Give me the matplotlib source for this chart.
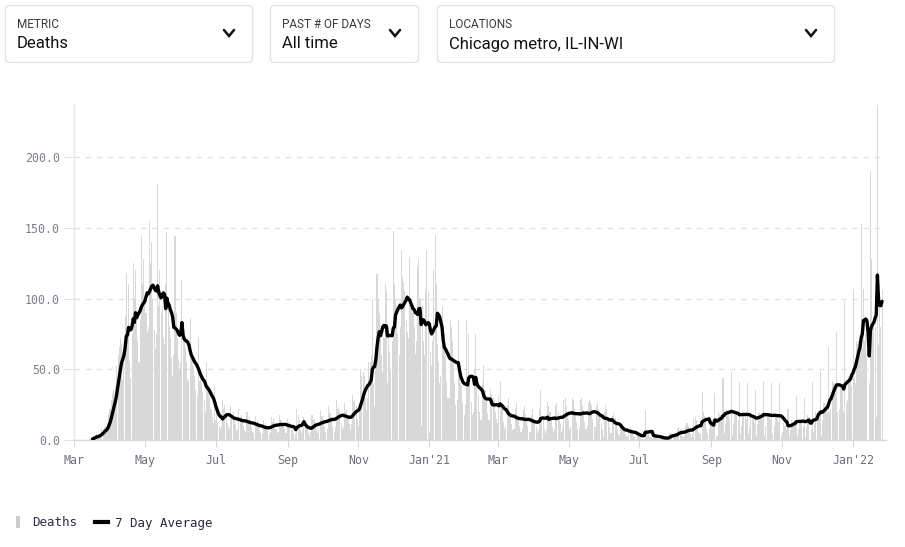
import numpy as np
import pandas as pd
import matplotlib
matplotlib.use("Agg")
import matplotlib.pyplot as plt
import matplotlib.dates as mdates
from matplotlib.patches import FancyBboxPatch, Rectangle
from matplotlib.lines import Line2D

# ---------------- data (daily reported deaths, Chicago metro) ----------------
start_date = "2020-03-09"   # first day of the daily series (Monday)

deaths_2020_mar_jun = [
    0, 0, 0, 0, 0, 1, 1,
    1, 2, 3, 2, 4, 3, 2,
    4, 5, 7, 8, 9, 10, 6,
    12, 18, 22, 28, 33, 35, 27,
    38, 52, 60, 66, 72, 68, 43,
    58, 88, 118, 72, 110, 56, 44,
    75, 125, 100, 120, 85, 70, 55,
    85, 144, 110, 128, 95, 90, 76,
    80, 155, 125, 140, 100, 78, 64,
    75, 181, 95, 120, 90, 95, 72,
    68, 110, 147, 95, 80, 72, 58,
    45, 60, 144, 90, 72, 57, 50,
    55, 113, 80, 72, 65, 55, 43,
    42, 86, 58, 60, 52, 45, 35,
    32, 73, 42, 45, 40, 34, 28,
    20, 55, 36, 38, 30, 22, 16,
]

deaths_2020_jul_oct = [
    12, 38, 14, 22, 12, 10, 8,
    10, 28, 22, 25, 20, 12, 9,
    8, 24, 18, 20, 17, 11, 7,
    7, 22, 16, 18, 15, 10, 7,
    6, 20, 14, 16, 13, 9, 6,
    5, 17, 12, 14, 10, 7, 5,
    4, 14, 10, 12, 9, 7, 4,
    6, 16, 13, 15, 11, 8, 5,
    6, 18, 14, 14, 12, 8, 5,
    5, 15, 12, 13, 10, 7, 4,
    1, 4, 22, 18, 14, 8, 5,
    8, 16, 10, 10, 8, 5, 3,
    6, 18, 14, 15, 12, 7, 5,
    7, 21, 17, 17, 14, 9, 6,
    8, 24, 19, 19, 16, 10, 6,
    9, 28, 22, 23, 20, 12, 8,
    9, 26, 20, 21, 18, 11, 7,
    11, 32, 27, 28, 24, 15, 10,
]

deaths_2020_nov_2021_feb = [
    20, 50, 45, 48, 45, 30, 21,
    30, 55, 55, 60, 100, 40, 24,
    65, 117, 100, 90, 80, 60, 48,
    72, 110, 105, 40, 80, 62, 49,
    70, 148, 110, 100, 95, 75, 60,
    80, 134, 115, 112, 105, 85, 76,
    72, 129, 100, 98, 90, 80, 61,
    70, 122, 128, 100, 10, 95, 70,
    60, 107, 134, 105, 5, 62, 52,
    70, 120, 145, 110, 68, 55, 40,
    45, 95, 80, 75, 60, 42, 30,
    30, 85, 80, 70, 55, 40, 25,
    28, 85, 45, 40, 38, 26, 18,
    25, 85, 40, 75, 45, 27, 18,
    20, 50, 75, 45, 32, 20, 14,
    14, 40, 53, 35, 28, 19, 14,
    14, 36, 32, 30, 28, 20, 15,
]

deaths_2021_mar_jun = [
    12, 32, 42, 25, 22, 13, 8,
    9, 25, 30, 20, 17, 11, 7,
    8, 22, 26, 18, 15, 10, 6,
    8, 21, 24, 18, 15, 10, 6,
    6, 18, 22, 15, 13, 9, 5,
    7, 22, 35, 17, 14, 8, 5,
    7, 27, 24, 20, 15, 9, 6,
    8, 24, 26, 20, 17, 11, 6,
    9, 28, 30, 24, 20, 14, 8,
    9, 30, 28, 22, 20, 13, 8,
    9, 28, 30, 24, 21, 13, 8,
    10, 26, 28, 27, 25, 15, 9,
    9, 24, 26, 22, 19, 12, 7,
    2, 20, 25, 22, 15, 9, 5,
    5, 17, 19, 16, 12, 7, 4,
    3, 11, 11, 10, 7, 4, 3,
    2, 8, 9, 8, 6, 3, 2,
    1, 4, 6, 5, 3, 1, 1,
]

deaths_2021_jul_oct = [
    1, 21, 7, 5, 4, 2, 2,
    1, 3, 4, 4, 3, 1, 1,
    0, 2, 2, 2, 2, 1, 0,
    1, 5, 5, 5, 4, 2, 2,
    2, 8, 9, 8, 6, 3, 2,
    3, 10, 12, 10, 8, 4, 2,
    4, 15, 16, 14, 11, 6, 4,
    5, 34, 20, 17, 14, 8, 4,
    8, 15, 14, 14, 11, 33, 3,
    3, 20, 18, 18, 14, 44, 5,
    12, 22, 20, 20, 15, 48, 3,
    11, 20, 18, 18, 14, 41, 4,
    10, 21, 19, 17, 15, 40, 4,
    9, 17, 16, 16, 12, 35, 3,
    11, 19, 18, 19, 14, 42, 3,
    10, 19, 18, 17, 14, 40, 4,
    10, 19, 17, 17, 13, 40, 3,
]

deaths_2021_nov_2022_jan = [
    6, 12, 10, 10, 8, 22, 2,
    7, 14, 13, 13, 10, 31, 3,
    8, 14, 13, 14, 10, 30, 2,
    9, 18, 16, 0, 8, 41, 6,
    11, 20, 19, 19, 15, 49, 3,
    14, 26, 25, 25, 20, 66, 20,
    22, 42, 40, 40, 33, 76, 20,
    22, 40, 38, 36, 20, 98, 26,
    28, 45, 43, 45, 38, 107, 44,
    40, 70, 68, 70, 60, 153, 64,
    107, 70, 75, 60, 0, 40, 190,
    128, 80, 85, 80, 16, 237, 67,
    100, 80, 106,
]

line_start = "2020-03-17"

tick_dates = ["2020-03-01", "2020-05-01", "2020-07-01", "2020-09-01", "2020-11-01",
              "2021-01-01", "2021-03-01", "2021-05-01", "2021-07-01", "2021-09-01",
              "2021-11-01", "2022-01-01"]
tick_labels = ["Mar", "May", "Jul", "Sep", "Nov", "Jan'21", "Mar", "May", "Jul",
               "Sep", "Nov", "Jan'22"]
y_ticks = [0, 50, 100, 150, 200]

dropdowns = [("METRIC", "Deaths"), ("PAST # OF DAYS", "All time"),
             ("LOCATIONS", "Chicago metro, IL-IN-WI")]
legend_labels = ["Deaths", "7 Day Average"]

# ---------------- build series ----------------
deaths = (deaths_2020_mar_jun + deaths_2020_jul_oct + deaths_2020_nov_2021_feb +
          deaths_2021_mar_jun + deaths_2021_jul_oct + deaths_2021_nov_2022_jan)
dates = pd.date_range(start_date, periods=len(deaths), freq="D")
series = pd.Series(deaths, index=dates, dtype=float)
avg7 = series.rolling(7, min_periods=1).mean()
avg7 = avg7[avg7.index >= pd.Timestamp(line_start)]

# ---------------- figure ----------------
W, H = 905, 547
fig = plt.figure(figsize=(W / 100, H / 100), dpi=100)
fig.patch.set_facecolor("white")

bg = fig.add_axes([0, 0, 1, 1], zorder=0)
bg.set_xlim(0, W)
bg.set_ylim(H, 0)
bg.axis("off")

# dropdown boxes
box_x = [(5, 253), (270, 419), (437, 835)]
for (x0, x1), (lab, val) in zip(box_x, dropdowns):
    bg.add_patch(FancyBboxPatch((x0 + 0.5, 5.5), x1 - x0 - 1, 57,
                                boxstyle="round,pad=0,rounding_size=4",
                                fc="white", ec="#e3e3e3", lw=1.0))
    bg.text(x0 + 12, 24, lab, fontsize=8.5, family="Roboto", color="#3a3a3a",
            va="center", ha="left")
    bg.text(x0 + 12, 44, val, fontsize=12, family="Roboto", color="#111111",
            va="center", ha="left")
    cx = x1 - 24
    bg.add_line(Line2D([cx - 5, cx, cx + 5], [30, 36, 30], color="#111111",
                       lw=1.8, solid_capstyle="round", solid_joinstyle="miter"))

# legend
bg.add_patch(Rectangle((16, 516), 4, 12, fc="#cccccc", ec="none"))
bg.text(32, 523, legend_labels[0], fontsize=9, family="DejaVu Sans Mono",
        color="#2a2a45", va="center", ha="left")
bg.add_line(Line2D([95, 108], [522, 522], color="black", lw=3))
bg.text(115, 523, legend_labels[1], fontsize=9, family="DejaVu Sans Mono",
        color="#2a2a45", va="center", ha="left")

# main axes
ax_left, ax_right, ax_top, ax_bottom = 74, 886, 104, 440
ax = fig.add_axes([ax_left / W, 1 - ax_bottom / H, (ax_right - ax_left) / W,
                   (ax_bottom - ax_top) / H], zorder=1)
ax.patch.set_alpha(0)

ax.bar(dates, deaths, width=0.9, color="#d8d8d8", edgecolor="none", zorder=2)
ax.plot(avg7.index, avg7.values, color="black", lw=2.4, zorder=3,
        solid_joinstyle="round", solid_capstyle="round")

x0 = pd.Timestamp("2020-03-01")
ax.set_xlim(mdates.date2num(x0), mdates.date2num(x0) + (ax_right - ax_left) / 1.161)
ax.set_ylim(0, 237.5)

ax.set_xticks([mdates.date2num(pd.Timestamp(d)) for d in tick_dates])
ax.set_xticklabels(tick_labels)
ax.set_yticks(y_ticks)
ax.set_yticklabels([f"{v:.1f}" for v in y_ticks])

for lab in ax.get_xticklabels() + ax.get_yticklabels():
    lab.set_family("DejaVu Sans Mono")
    lab.set_fontsize(8.4)
ax.tick_params(axis="x", colors="#d8d8d8", labelcolor="#6e6e7e", length=5, pad=5)
ax.tick_params(axis="y", colors="#e2e2e2", labelcolor="#7e7e8e", length=7, pad=3)

ax.grid(axis="y", color="#e2e2e2", lw=1, linestyle=(0, (4, 4)), zorder=1)
ax.grid(axis="x", visible=False)
for s in ["top", "right"]:
    ax.spines[s].set_visible(False)
ax.spines["left"].set_color("#e8e8e8")
ax.spines["left"].set_linewidth(1)
ax.spines["bottom"].set_color("#d8d8d8")
ax.spines["bottom"].set_linewidth(1)

fig.savefig("out.png", dpi=100, facecolor="white")
